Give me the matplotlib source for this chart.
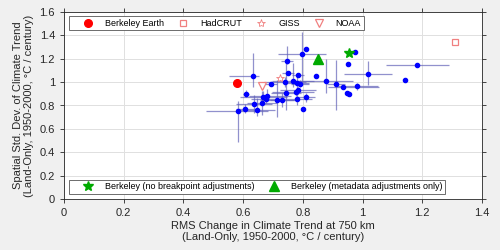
import matplotlib
matplotlib.use("Agg")
import matplotlib.pyplot as plt
import numpy as np

plt.rcParams['font.family'] = ['Liberation Sans', 'DejaVu Sans']

# Blue station/sample points: x, y and asymmetric error bars
x_pts = [0.582, 0.605, 0.611, 0.634, 0.636, 0.646, 0.664, 0.668, 0.677, 0.681,
         0.694, 0.715, 0.730, 0.740, 0.746, 0.751, 0.744, 0.766, 0.783, 0.781,
         0.789, 0.776, 0.785, 0.782, 0.810, 0.799, 0.798, 0.811, 0.843, 0.879,
         0.912, 0.934, 0.949, 0.956, 0.952, 0.974, 0.980, 1.018, 1.142, 1.183]
y_pts = [0.756, 0.773, 0.901, 1.051, 0.813, 0.762, 0.821, 0.875, 0.853, 0.881,
         0.983, 0.850, 0.850, 1.000, 1.182, 1.077, 0.909, 1.006, 1.060, 0.992,
         0.986, 0.912, 0.930, 0.857, 0.870, 0.773, 1.237, 1.282, 1.054, 1.009,
         0.981, 0.958, 0.909, 0.895, 1.157, 1.259, 0.964, 1.071, 1.020, 1.148]
x_err_lo = [0.105, 0.03, 0.01, 0.08, 0.06, 0.06, 0.05, 0.08, 0.05, 0.06,
            0.02, 0.06, 0.04, 0.07, 0.02, 0.02, 0.05, 0.07, 0.02, 0.04,
            0.03, 0.08, 0.06, 0.05, 0.03, 0.0, 0.08, 0.0, 0.0, 0.12,
            0.03, 0.05, 0.0, 0.0, 0.0, 0.0, 0.07, 0.08, 0.0, 0.104]
x_err_hi = [0.10, 0.03, 0.01, 0.02, 0.06, 0.06, 0.05, 0.08, 0.05, 0.08,
            0.02, 0.06, 0.04, 0.07, 0.02, 0.02, 0.05, 0.07, 0.02, 0.04,
            0.03, 0.06, 0.06, 0.05, 0.03, 0.0, 0.08, 0.0, 0.0, 0.09,
            0.03, 0.12, 0.0, 0.0, 0.0, 0.0, 0.07, 0.08, 0.0, 0.105]
y_err_lo = [0.27, 0.04, 0.03, 0.09, 0.08, 0.05, 0.10, 0.05, 0.03, 0.04,
            0.02, 0.15, 0.06, 0.04, 0.03, 0.02, 0.15, 0.05, 0.02, 0.07,
            0.03, 0.03, 0.03, 0.05, 0.04, 0.0, 0.26, 0.0, 0.0, 0.105,
            0.22, 0.02, 0.0, 0.0, 0.0, 0.0, 0.03, 0.095, 0.0, 0.0]
y_err_hi = [0.085, 0.04, 0.03, 0.20, 0.08, 0.10, 0.10, 0.05, 0.03, 0.06,
            0.02, 0.17, 0.06, 0.04, 0.13, 0.02, 0.28, 0.16, 0.02, 0.07,
            0.03, 0.03, 0.03, 0.05, 0.04, 0.0, 0.19, 0.0, 0.0, 0.185,
            0.21, 0.02, 0.0, 0.0, 0.0, 0.0, 0.03, 0.105, 0.0, 0.0]

# Reference datasets
berkeley_earth = (0.580, 0.990)
hadcrut = (1.310, 1.342)
giss = (0.724, 1.035)
noaa = (0.664, 0.969)
berk_no_breakpoint = (0.955, 1.245)
berk_metadata = (0.852, 1.197)

x_ticks = [0, 0.2, 0.4, 0.6, 0.8, 1, 1.2, 1.4]
x_ticklabels = ['0', '0.2', '0.4', '0.6', '0.8', '1', '1.2', '1.4']
y_ticks = [0, 0.2, 0.4, 0.6, 0.8, 1, 1.2, 1.4, 1.6]
y_ticklabels = ['0', '0.2', '0.4', '0.6', '0.8', '1', '1.2', '1.4', '1.6']

fig = plt.figure(figsize=(5, 2.5), dpi=100, facecolor='#f0f0f0')
ax = fig.add_axes([0.128, 0.203, 0.836, 0.750])
ax.set_facecolor('white')

ax.errorbar(x_pts, y_pts, xerr=[x_err_lo, x_err_hi], yerr=[y_err_lo, y_err_hi],
            fmt='none', ecolor='#6262b8', elinewidth=0.9, alpha=0.7, capsize=0, zorder=2)
ax.plot(x_pts, y_pts, 'o', color='#0000ff', markersize=3.0, zorder=3)

h1, = ax.plot(*berkeley_earth, 'o', color='#ff0000', markersize=5.5, zorder=4, linestyle='none')
h2, = ax.plot(*hadcrut, 's', markerfacecolor='none', markeredgecolor='#f08080',
              markersize=4.5, markeredgewidth=0.9, linestyle='none', zorder=4)
h3, = ax.plot(*giss, '*', color='#f08080', markersize=6, markeredgewidth=0.6,
              markerfacecolor='none', linestyle='none', zorder=4)
h4, = ax.plot(*noaa, 'v', markerfacecolor='none', markeredgecolor='#f08080',
              markersize=5.5, markeredgewidth=0.9, linestyle='none', zorder=4)
h5, = ax.plot(*berk_no_breakpoint, '*', color='#00aa00', markersize=7, linestyle='none', zorder=5)
h6, = ax.plot(*berk_metadata, '^', color='#00aa00', markersize=7, linestyle='none', zorder=5)

ax.set_xlim(0, 1.4)
ax.set_ylim(0, 1.6)
ax.set_xticks(x_ticks)
ax.set_xticklabels(x_ticklabels)
ax.set_yticks(y_ticks)
ax.set_yticklabels(y_ticklabels)
ax.tick_params(axis='both', which='both', direction='out', length=3, width=0.6,
               labelsize=8, top=True, right=True, color='#262626', labelcolor='#262626')
ax.grid(True, color='#e0e0e0', linewidth=0.7)
ax.set_axisbelow(True)
for s in ax.spines.values():
    s.set_color('#262626')
    s.set_linewidth(0.6)

ax.set_xlabel('RMS Change in Climate Trend at 750 km\n(Land-Only, 1950-2000, \u00b0C / century)',
              fontsize=8, color='#262626', labelpad=2, linespacing=1.15)
ax.set_ylabel('Spatial Std. Dev. of Climate Trend\n(Land-Only, 1950-2000, \u00b0C / century)',
              fontsize=8, color='#262626', labelpad=4, linespacing=1.15)

leg_kw = dict(fontsize=6.5, frameon=True, fancybox=False, edgecolor='#555555',
              framealpha=1, handlelength=3.6, handletextpad=0.1, columnspacing=0.3,
              borderpad=0.3, borderaxespad=0)
leg1 = ax.legend([h1, h2, h3, h4], ['Berkeley Earth', 'HadCRUT', 'GISS', 'NOAA'],
                 loc='upper left', bbox_to_anchor=(0.012, 0.977), ncol=4, **leg_kw)
leg1.get_frame().set_linewidth(0.6)
ax.add_artist(leg1)
leg2 = ax.legend([h5, h6], ['Berkeley (no breakpoint adjustments)',
                            'Berkeley (metadata adjustments only)'],
                 loc='lower left', bbox_to_anchor=(0.012, 0.028), ncol=2, **leg_kw)
leg2.get_frame().set_linewidth(0.6)

fig.savefig('out.png', dpi=100, facecolor=fig.get_facecolor())
